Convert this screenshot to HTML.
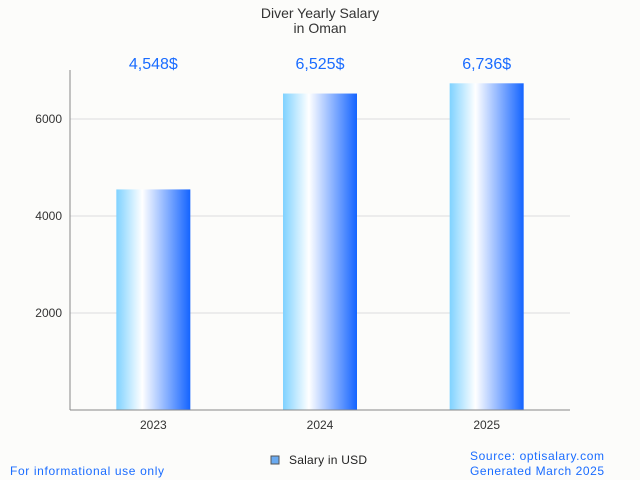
<!DOCTYPE html>
<html><head><meta charset="utf-8"><style>
body{margin:0;background:#fcfcfa;font-family:"Liberation Sans",sans-serif;}
svg{display:block}
</style></head><body>
<svg width="640" height="480" id="chart">
<defs><linearGradient id="g" x1="0" x2="1" y1="0" y2="0">
<stop offset="0" stop-color="#7fd2ff"/><stop offset="0.35" stop-color="#ffffff"/><stop offset="1" stop-color="#1464ff"/>
</linearGradient></defs>
<rect width="640" height="480" fill="#fcfcfa"/>
<text x="320" y="18" text-anchor="middle" font-size="14" fill="#333">Diver Yearly Salary</text>
<text x="320" y="33" text-anchor="middle" font-size="14" fill="#333">in Oman</text>
<g id="grid"></g><g id="bars"></g>
<line x1="70" y1="70" x2="70" y2="410" stroke="#888"/>
<line x1="70" y1="410" x2="570" y2="410" stroke="#888"/>
<rect x="271" y="456" width="8" height="8" fill="#6aaaf0" stroke="#555" stroke-width="1"/>
<text x="289" y="464" font-size="12" fill="#222" textLength="78">Salary in USD</text>
<text x="10" y="475" font-size="12" fill="#1a6cff" textLength="154">For informational use only</text>
<text x="470" y="460" font-size="12" fill="#1a6cff" textLength="134">Source: optisalary.com</text>
<text x="470" y="475" font-size="12" fill="#1a6cff" textLength="134">Generated March 2025</text>
</svg>
<script>
const categories=["2023","2024","2025"];
const values=[4548,6525,6736];
const valueLabels=["4,548$","6,525$","6,736$"];
const yTicks=[2000,4000,6000];
const NS="http://www.w3.org/2000/svg";
const x0=70,x1=570,yBase=410,scale=97/2000;
const y=v=>yBase-v*scale;
const band=(x1-x0)/categories.length;
const grid=document.getElementById('grid'),bars=document.getElementById('bars');
function mk(t,a,p){const e=document.createElementNS(NS,t);for(const k in a)e.setAttribute(k,a[k]);p.appendChild(e);return e;}
yTicks.forEach(t=>{
 const l=mk('line',{x1:x0,x2:x1,y1:y(t),y2:y(t),stroke:'#ddd'},grid);
 
 
 const tx=mk('text',{x:62,y:y(t)+4,'text-anchor':'end','font-size':12,fill:'#333'},grid);
 tx.textContent=t;
 
 
});
categories.forEach((c,i)=>{
 const cx=x0+band*(i+0.5);
 const r=mk('rect',{x:cx-37,y:y(values[i]),width:74,height:yBase-y(values[i]),fill:'url(#g)'},bars);
 
 
 const v=mk('text',{x:cx,y:69,'text-anchor':'middle','font-size':16,fill:'#1a6cff'},bars);
 v.textContent=valueLabels[i];
 
 
 const xl=mk('text',{x:cx,y:429,'text-anchor':'middle','font-size':12,fill:'#333'},bars);
 xl.textContent=c;
 
 
});
</script>
</body></html>
